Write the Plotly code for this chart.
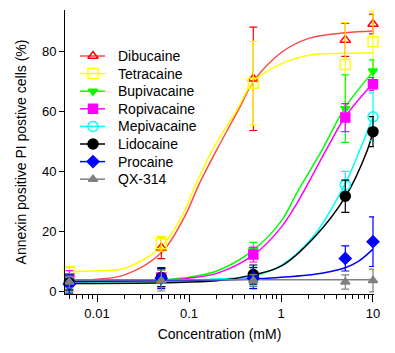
import plotly.graph_objects as go

conc = [0.005, 0.05, 0.5, 5, 10]
names = ["Dibucaine", "Tetracaine", "Bupivacaine", "Ropivacaine",
         "Mepivacaine", "Lidocaine", "Procaine", "QX-314"]

dibucaine = [3.0, 14.5, 71.0, 84.0, 89.3]
dibucaine_err = [2.5, 3.7, 17.3, 5.5, 3.3]
tetracaine = [6.5, 15.8, 69.5, 75.8, 83.4]
tetracaine_err = [1.5, 2.5, 14.0, 14.0, 10.2]
bupivacaine = [2.5, 4.5, 13.8, 61.0, 73.6]
bupivacaine_err = [2.7, 3.0, 2.5, 11.3, 3.7]
ropivacaine = [4.3, 4.5, 12.2, 58.0, 69.2]
ropivacaine_err = [2.5, 3.0, 2.5, 4.7, 2.2]
mepivacaine = [3.1, 4.2, 5.0, 35.5, 58.3]
mepivacaine_err = [2.5, 3.0, 3.0, 4.5, 8.0]
lidocaine = [2.8, 4.5, 5.5, 31.7, 53.3]
lidocaine_err = [2.5, 3.0, 3.2, 5.4, 5.0]
procaine = [2.3, 4.3, 4.3, 10.9, 16.5]
procaine_err = [3.0, 3.5, 3.5, 4.2, 8.3]
qx314 = [3.0, 3.5, 3.5, 3.0, 3.5]
qx314_err = [2.0, 3.5, 2.0, 2.4, 3.8]

# fitted curves
dib_fit_x = [0.005, 0.01, 0.02, 0.05, 0.09, 0.13, 0.2, 0.35, 0.5, 1, 2, 5, 10]
dib_fit_y = [3.4, 3.9, 5.4, 12.8, 25.0, 36.0, 47.2, 61.0, 70.0, 79.7, 84.5, 86.4, 87.0]
tet_fit_x = [0.005, 0.01, 0.02, 0.05, 0.083, 0.12, 0.18, 0.33, 0.5, 1, 2, 5, 10]
tet_fit_y = [6.5, 6.8, 7.6, 14.8, 24.8, 36.0, 47.2, 60.5, 70.0, 76.0, 78.9, 79.5, 79.7]
bup_fit_x = [0.005, 0.05, 0.1, 0.2, 0.5, 1, 1.5, 2.8, 5, 10]
bup_fit_y = [3.3, 3.8, 4.6, 6.7, 13.7, 23.3, 33.0, 47.2, 61.5, 73.3]
rop_fit_x = [0.005, 0.05, 0.1, 0.2, 0.5, 1, 1.5, 3.1, 5, 10]
rop_fit_y = [3.2, 3.6, 4.3, 5.9, 12.0, 21.2, 29.5, 47.2, 58.3, 69.5]
mep_fit_x = [0.005, 0.05, 0.2, 0.5, 1, 2.24, 5, 7.2, 10]
mep_fit_y = [3.0, 3.3, 4.0, 5.0, 8.5, 18.2, 36.0, 47.2, 58.3]
lid_fit_x = [0.005, 0.05, 0.2, 0.5, 1, 2.24, 5, 8.7, 10]
lid_fit_y = [2.5, 2.8, 3.4, 5.4, 8.3, 17.6, 31.5, 47.2, 53.3]
pro_fit_x = [0.005, 0.05, 0.5, 1, 2.24, 5, 7, 10]
pro_fit_y = [3.2, 3.4, 4.0, 4.6, 5.5, 7.8, 10.0, 14.0]
qx_fit_x = [0.005, 10]
qx_fit_y = [3.8, 3.8]

tick_vals = [0.01, 0.1, 1, 10]
tick_text = ["0.01", "0.1", "1", "10"]

series = [
    (dibucaine, dibucaine_err, dib_fit_x, dib_fit_y, "#FF0000", "#FF4A4A", "triangle-up-open", 9),
    (tetracaine, tetracaine_err, tet_fit_x, tet_fit_y, "#FFFF00", "#FFFF00", "square-open", 10),
    (bupivacaine, bupivacaine_err, bup_fit_x, bup_fit_y, "#00FF00", "#00FF00", "triangle-down", 8),
    (ropivacaine, ropivacaine_err, rop_fit_x, rop_fit_y, "#FF00FF", "#FF00FF", "square", 9),
    (mepivacaine, mepivacaine_err, mep_fit_x, mep_fit_y, "#00FFFF", "#00FFFF", "circle-open", 10),
    (lidocaine, lidocaine_err, lid_fit_x, lid_fit_y, "#000000", "#000000", "circle", 10),
    (procaine, procaine_err, pro_fit_x, pro_fit_y, "#0000FF", "#0000FF", "diamond", 9),
    (qx314, qx314_err, qx_fit_x, qx_fit_y, "#808080", "#808080", "triangle-up", 8),
]

fig = go.Figure()
for name, (vals, errs, fx, fy, col, lcol, sym, sz) in zip(names, series):
    fig.add_trace(go.Scatter(x=fx, y=fy, mode="lines", line=dict(color=lcol, width=1.5, shape="spline"),
                             showlegend=False, hoverinfo="skip"))
for name, (vals, errs, fx, fy, col, lcol, sym, sz) in zip(names, series):
    fig.add_trace(go.Scatter(x=conc, y=vals, mode="markers", name=name, cliponaxis=False,
                             marker=dict(symbol=sym, size=sz, color=col, line=dict(color=col, width=1.5)),
                             error_y=dict(type="data", array=errs, color=col, thickness=1.2, width=4),
                             showlegend=False))

# legend drawn in an overlay pixel-like frame (plot area 309 x 284)
leg_x0, leg_x1, leg_mx, leg_tx = 15, 40, 28, 51
leg_y0, leg_step = 46, 17.6
annotations = []
for i, (name, (vals, errs, fx, fy, col, lcol, sym, sz)) in enumerate(zip(names, series)):
    yy = leg_y0 + i * leg_step
    fig.add_trace(go.Scatter(x=[leg_x0, leg_x1], y=[yy, yy], mode="lines", xaxis="x2", yaxis="y2",
                             line=dict(color=lcol, width=1.5), showlegend=False, hoverinfo="skip"))
    fig.add_trace(go.Scatter(x=[leg_mx], y=[yy], mode="markers", xaxis="x2", yaxis="y2",
                             marker=dict(symbol=sym, size=sz, color=col, line=dict(color=col, width=1.5)),
                             showlegend=False, hoverinfo="skip"))
    annotations.append(dict(x=leg_tx, y=yy, xref="x2", yref="y2", text=name, showarrow=False,
                            xanchor="left", yanchor="middle", font=dict(size=14, color="black")))

# page body has an 8px default margin; the figure is sized/offset to compensate
fig.update_layout(
    width=387, height=345,
    margin=dict(l=57, r=21, t=2, b=59),
    paper_bgcolor="white", plot_bgcolor="white",
    font=dict(family="Liberation Sans, Arial, sans-serif", size=13, color="black"),
    showlegend=False,
    annotations=annotations,
    xaxis=dict(type="log", range=[-2.348, 1.011], tickvals=tick_vals, ticktext=tick_text,
               ticks="outside", ticklen=7, tickcolor="black", showline=True, linecolor="black",
               linewidth=1, showgrid=False, zeroline=False, tickfont=dict(size=13), automargin=False,
               minor=dict(ticks="outside", ticklen=4, tickcolor="black", dtick="D1", showgrid=False),
               title=dict(text="Concentration (mM)", font=dict(size=14), standoff=9)),
    yaxis=dict(range=[-1, 94], tickvals=[0, 20, 40, 60, 80], ticks="outside", ticklen=5,
               tickcolor="black", showline=True, linecolor="black", linewidth=1, showgrid=False,
               zeroline=False, tickfont=dict(size=13), automargin=False,
               title=dict(text="Annexin positive PI postive cells (%)", font=dict(size=14), standoff=12)),
    xaxis2=dict(overlaying="x", range=[0, 309], visible=False, fixedrange=True),
    yaxis2=dict(overlaying="y", range=[284, 0], visible=False, fixedrange=True),
)

fig.write_html("out.html")
